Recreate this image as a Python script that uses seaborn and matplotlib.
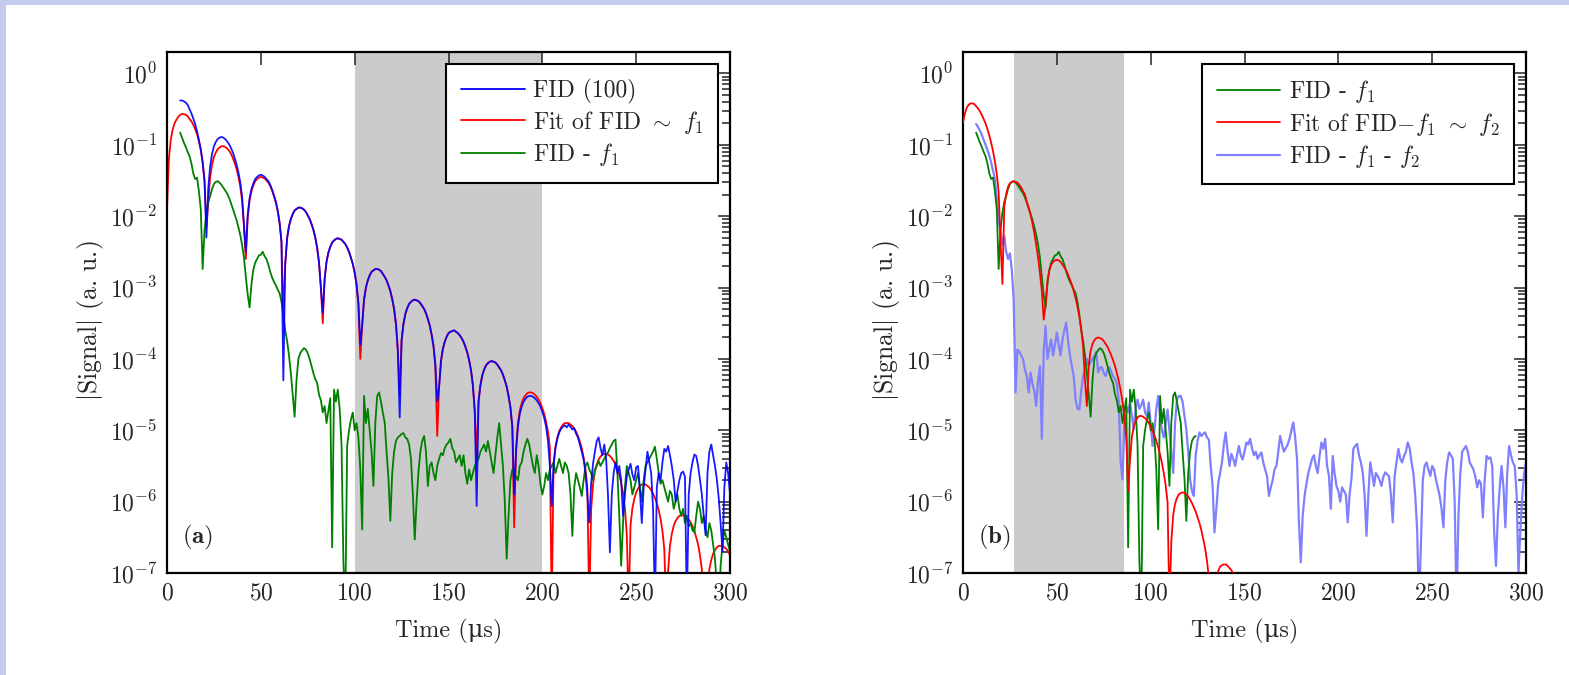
import numpy as np
import matplotlib
matplotlib.use("Agg")
import matplotlib.pyplot as plt
import seaborn as sns
from matplotlib.patches import Rectangle
from matplotlib.ticker import LogLocator, NullFormatter, FixedLocator

# ------------------------------------------------------------------
# Data: log10(|signal|), one value per microsecond
# ------------------------------------------------------------------
T0_FIT = 0    # fitted curves start at t = 0 us
T0_DATA = 7   # measured traces start at t = 7 us

# Fit of FID ~ f1  (panel a, red), t = 0..300
fit_f1_log = [
    -1.90, -1.20, -0.93, -0.79, -0.70, -0.65, -0.61, -0.58, -0.57, -0.57,
    -0.58, -0.60, -0.64, -0.67, -0.72, -0.78, -0.85, -0.95, -1.07, -1.24,
    -1.50, -2.15, -1.81, -1.45, -1.28, -1.17, -1.11, -1.06, -1.04, -1.02,
    -1.02, -1.03, -1.05, -1.08, -1.12, -1.18, -1.25, -1.33, -1.44, -1.58,
    -1.78, -2.15, -2.60, -2.02, -1.78, -1.65, -1.57, -1.51, -1.48, -1.46,
    -1.45, -1.46, -1.47, -1.50, -1.53, -1.58, -1.64, -1.72, -1.81, -1.93,
    -2.10, -2.36, -3.40, -2.67, -2.31, -2.14, -2.04, -1.97, -1.92, -1.90,
    -1.88, -1.88, -1.89, -1.91, -1.94, -1.99, -2.04, -2.11, -2.19, -2.30,
    -2.44, -2.65, -3.01, -3.50, -2.88, -2.64, -2.51, -2.43, -2.37, -2.34,
    -2.32, -2.31, -2.32, -2.33, -2.36, -2.39, -2.44, -2.50, -2.58, -2.67,
    -2.79, -2.96, -3.23, -4.00, -3.53, -3.17, -3.00, -2.90, -2.83, -2.78,
    -2.76, -2.74, -2.74, -2.75, -2.77, -2.81, -2.85, -2.90, -2.97, -3.05,
    -3.16, -3.30, -3.51, -3.88, -4.50, -3.74, -3.51, -3.37, -3.29, -3.23,
    -3.20, -3.18, -3.17, -3.18, -3.19, -3.22, -3.26, -3.30, -3.36, -3.44,
    -3.53, -3.66, -3.82, -4.09, -5.08, -4.39, -4.03, -3.86, -3.76, -3.69,
    -3.64, -3.62, -3.61, -3.60, -3.62, -3.64, -3.67, -3.71, -3.76, -3.83,
    -3.91, -4.02, -4.16, -4.37, -4.74, -5.40, -4.60, -4.37, -4.23, -4.15,
    -4.09, -4.06, -4.04, -4.03, -4.04, -4.05, -4.08, -4.12, -4.16, -4.22,
    -4.30, -4.39, -4.52, -4.68, -4.95, -6.36, -5.26, -4.90, -4.72, -4.62,
    -4.55, -4.51, -4.48, -4.47, -4.47, -4.48, -4.50, -4.53, -4.57, -4.62,
    -4.69, -4.77, -4.88, -5.02, -5.23, -7.50, -5.46, -5.23, -5.10, -5.01,
    -4.96, -4.92, -4.90, -4.90, -4.90, -4.92, -4.94, -4.98, -5.02, -5.08,
    -5.16, -5.25, -5.38, -5.55, -5.81, -7.50, -6.12, -5.76, -5.58, -5.48,
    -5.41, -5.37, -5.34, -5.33, -5.33, -5.34, -5.36, -5.39, -5.43, -5.48,
    -5.55, -5.63, -5.74, -5.88, -6.09, -6.46, -7.50, -6.33, -6.09, -5.96,
    -5.87, -5.82, -5.78, -5.76, -5.76, -5.76, -5.78, -5.80, -5.84, -5.89,
    -5.95, -6.02, -6.12, -6.24, -6.41, -6.67, -7.50, -6.98, -6.62, -6.45,
    -6.34, -6.27, -6.23, -6.20, -6.19, -6.19, -6.20, -6.22, -6.25, -6.29,
    -6.34, -6.41, -6.50, -6.60, -6.75, -6.95, -7.32, -7.94, -7.19, -6.95,
    -6.82, -6.73, -6.68, -6.64, -6.62, -6.62, -6.62, -6.64, -6.66, -6.70,
    -6.75,
]

# FID (100)  (panel a, blue), t = 7..300
fid_log = [
    -0.38, -0.38, -0.39,
    -0.41, -0.44, -0.50, -0.56, -0.63, -0.71, -0.81, -0.93, -1.07, -1.25,
    -1.52, -2.30, -1.60, -1.30, -1.13, -1.02, -0.96, -0.92, -0.90, -0.89,
    -0.90, -0.92, -0.95, -0.99, -1.04, -1.10, -1.18, -1.27, -1.38, -1.52,
    -1.72, -2.10, -2.50, -1.98, -1.75, -1.62, -1.54, -1.48, -1.45, -1.43,
    -1.42, -1.43, -1.45, -1.48, -1.51, -1.56, -1.63, -1.71, -1.80, -1.92,
    -2.09, -2.36, -4.30, -2.67, -2.31, -2.14, -2.04, -1.97, -1.92, -1.90,
    -1.88, -1.88, -1.89, -1.91, -1.94, -1.99, -2.04, -2.11, -2.19, -2.30,
    -2.44, -2.65, -3.01, -3.35, -2.88, -2.64, -2.51, -2.43, -2.37, -2.34,
    -2.32, -2.31, -2.32, -2.33, -2.36, -2.39, -2.44, -2.50, -2.58, -2.67,
    -2.79, -2.96, -3.23, -3.80, -3.53, -3.17, -3.00, -2.90, -2.83, -2.78,
    -2.76, -2.74, -2.74, -2.75, -2.77, -2.81, -2.85, -2.90, -2.97, -3.05,
    -3.16, -3.30, -3.51, -3.88, -4.82, -3.74, -3.51, -3.37, -3.29, -3.23,
    -3.20, -3.18, -3.17, -3.18, -3.19, -3.22, -3.26, -3.30, -3.36, -3.44,
    -3.53, -3.66, -3.82, -4.09, -4.60, -4.39, -4.03, -3.86, -3.76, -3.69,
    -3.64, -3.62, -3.61, -3.60, -3.62, -3.64, -3.67, -3.71, -3.76, -3.83,
    -3.91, -4.02, -4.16, -4.37, -4.74, -6.06, -4.60, -4.37, -4.23, -4.15,
    -4.09, -4.06, -4.04, -4.03, -4.04, -4.05, -4.08, -4.12, -4.16, -4.22,
    -4.30, -4.39, -4.52, -4.68, -4.95, -5.90, -5.30, -4.95, -4.77, -4.67,
    -4.60, -4.56, -4.53, -4.52, -4.52, -4.53, -4.55, -4.58, -4.62, -4.67,
    -4.74, -4.83, -4.95, -5.15, -5.50, -6.06, -5.50, -5.25, -5.12, -5.03,
    -4.98, -4.95, -4.93, -4.96, -4.92, -4.95, -4.99, -4.97, -5.05, -5.10,
    -5.20, -5.30, -5.41, -5.60, -5.92, -6.29, -5.75, -5.47, -5.30, -5.15,
    -5.10, -5.25, -5.35, -5.20, -5.40, -5.92, -6.71, -5.90, -5.60, -5.45,
    -5.60, -5.50, -5.70, -6.20, -5.90, -5.65, -5.55, -5.47, -5.62, -5.70,
    -5.52, -5.50, -5.85, -6.30, -5.80, -5.55, -5.30, -5.45, -5.60, -6.10,
    -7.50, -5.80, -5.60, -5.70, -5.45, -5.26, -5.30, -5.22, -5.35, -5.50,
    -5.69, -6.00, -5.85, -5.70, -5.60, -5.58, -5.65, -7.50, -5.90, -5.60,
    -5.45, -5.34, -5.36, -5.50, -5.69, -5.90, -6.20, -6.47, -5.60, -5.30,
    -5.20, -5.35, -5.50, -5.69, -5.95, -6.30, -6.70, -5.80, -5.45, -5.60,
    -5.90,
]

# FID - f1  (green, both panels), t = 7..300
fid_minus_f1_log = [
    -0.83, -0.90, -0.97,
    -1.03, -1.10, -1.16, -1.26, -1.40, -1.48, -1.46, -1.65, -1.90, -2.74,
    -2.20, -1.95, -1.80, -1.72, -1.62, -1.55, -1.52, -1.51, -1.53, -1.56,
    -1.60, -1.64, -1.68, -1.74, -1.81, -1.89, -1.97, -2.05, -2.15, -2.26,
    -2.40, -2.58, -2.85, -3.10, -3.28, -2.95, -2.75, -2.65, -2.60, -2.55,
    -2.54, -2.50, -2.56, -2.60, -2.68, -2.78, -2.86, -2.92, -2.97, -3.03,
    -3.08, -3.20, -3.38, -3.60, -3.75, -3.95, -4.20, -4.50, -4.81, -4.30,
    -4.00, -3.92, -3.88, -3.85, -3.87, -3.92, -4.00, -4.10, -4.20, -4.28,
    -4.34, -4.50, -4.58, -4.75, -4.66, -4.90, -4.72, -4.55, -6.64, -4.43,
    -4.60, -4.43, -4.70, -5.20, -6.85, -7.50, -5.22, -5.00, -4.85, -4.75,
    -5.00, -4.90, -5.10, -5.55, -6.39, -4.52, -4.90, -4.70, -5.00, -5.30,
    -5.78, -4.90, -4.52, -4.47, -4.60, -4.75, -4.89, -5.30, -5.67, -6.27,
    -5.60, -5.30, -5.15, -5.10, -5.08, -5.05, -5.04, -5.10, -5.12, -5.20,
    -5.40, -5.90, -6.53, -6.00, -5.58, -5.30, -5.15, -5.08, -5.30, -5.78,
    -5.50, -5.45, -5.60, -5.70, -5.50, -5.40, -5.32, -5.35, -5.25, -5.20,
    -5.17, -5.12, -5.25, -5.30, -5.45, -5.40, -5.35, -5.50, -5.35, -5.60,
    -5.75, -5.55, -5.70, -5.60, -5.50, -5.45, -5.40, -5.30, -5.25, -5.20,
    -5.30, -5.15, -5.30, -5.45, -5.60, -5.35, -5.10, -4.90, -5.20, -5.50,
    -6.00, -6.80, -6.20, -5.70, -5.55, -5.60, -5.65, -5.70, -5.50, -5.45,
    -5.30, -5.20, -5.12, -5.20, -5.35, -5.50, -5.60, -5.35, -5.50, -5.75,
    -5.90, -5.78, -5.60, -5.70, -5.55, -5.50, -5.45, -5.60, -5.50, -5.40,
    -5.50, -5.60, -5.45, -5.50, -5.60, -5.90, -6.48, -5.80, -5.60, -5.70,
    -5.80, -5.92, -5.70, -5.50, -5.45, -5.55, -5.60, -5.70, -5.55, -5.50,
    -5.43, -5.50, -5.45, -5.40, -5.35, -5.31, -5.25, -5.20, -5.15, -5.13,
    -5.60, -6.20, -6.90, -6.30, -5.80, -5.50, -5.60, -5.70, -5.90, -5.80,
    -5.70, -5.60, -5.80, -6.00, -5.70, -5.50, -5.45, -5.40, -5.35, -5.30,
    -5.23, -5.40, -5.60, -5.75, -5.70, -5.80, -5.90, -6.00, -5.85, -5.90,
    -6.10, -6.00, -5.90, -6.10, -6.20, -6.10, -6.30, -6.20, -6.35, -6.30,
    -6.40, -6.43, -6.20, -6.00, -6.10, -6.30, -6.20, -6.40, -6.50, -6.30,
    -6.40, -6.60, -6.80, -7.20, -7.50, -6.90, -6.60, -6.40, -6.50, -6.60,
    -6.70,
]
GREEN_B_END = 124   # panel b shows FID - f1 only up to this time (us)

# Fit of FID - f1 ~ f2  (panel b, red), t = 0..150
fit_f2_log = [
    -0.69, -0.56, -0.48, -0.44, -0.42, -0.42, -0.43, -0.46, -0.49, -0.53,
    -0.58, -0.64, -0.70, -0.78, -0.87, -0.97, -1.09, -1.23, -1.41, -1.67,
    -2.35, -2.95, -1.87, -1.69, -1.59, -1.54, -1.52, -1.51, -1.52, -1.53,
    -1.56, -1.60, -1.65, -1.70, -1.80, -1.88, -1.98, -2.10, -2.24, -2.40,
    -2.58, -2.80, -3.05, -3.45, -3.24, -2.90, -2.76, -2.68, -2.64, -2.62,
    -2.61, -2.62, -2.64, -2.68, -2.72, -2.76, -2.82, -2.89, -2.96, -3.05,
    -3.15, -3.27, -3.41, -3.58, -3.83, -4.30, -4.66, -4.09, -3.89, -3.79,
    -3.74, -3.71, -3.70, -3.71, -3.72, -3.75, -3.79, -3.83, -3.89, -3.95,
    -4.02, -4.10, -4.20, -4.31, -4.44, -4.60, -4.81, -5.13, -5.85, -5.42,
    -5.09, -4.95, -4.87, -4.82, -4.80, -4.80, -4.81, -4.83, -4.86, -4.90,
    -4.95, -5.01, -5.07, -5.15, -5.24, -5.34, -5.46, -5.60, -5.77, -6.01,
    -7.50, -6.56, -6.19, -6.03, -5.95, -5.90, -5.88, -5.87, -5.88, -5.90,
    -5.93, -5.97, -6.02, -6.08, -6.14, -6.22, -6.30, -6.40, -6.52, -6.65,
    -6.83, -7.06, -7.46, -7.90, -7.30, -7.08, -6.97, -6.91, -6.89, -6.88,
    -6.88, -6.90, -6.93, -6.96, -7.01, -7.06, -7.11, -7.16, -7.22, -7.28,
    -7.34,
]

# FID - f1 - f2  (panel b, light blue), t = 7..300
fid_minus_f1_f2_log = [
    -0.71, -0.75, -0.80,
    -0.86, -0.93, -1.00, -1.07, -1.15, -1.25, -1.36, -1.48, -1.75, -2.05,
    -2.23, -2.40, -2.28, -2.50, -2.60, -2.52, -2.75, -3.17, -4.47, -3.87,
    -3.90, -3.95, -4.00, -4.15, -4.24, -4.47, -4.19, -4.35, -4.45, -4.66,
    -4.30, -4.10, -5.12, -3.90, -3.54, -4.00, -3.85, -3.73, -3.95, -3.80,
    -3.63, -3.80, -3.95, -3.73, -3.60, -3.49, -3.75, -3.95, -4.10, -4.24,
    -4.57, -4.70, -4.71, -4.45, -4.24, -4.15, -4.00, -4.10, -4.05, -4.00,
    -3.96, -3.90, -4.19, -4.12, -4.12, -4.20, -4.24, -4.15, -4.12, -4.18,
    -4.25, -4.28, -4.35, -4.60, -5.45, -5.69, -4.90, -4.66, -4.75, -4.61,
    -4.80, -4.99, -4.70, -4.57, -4.70, -4.65, -4.57, -4.75, -4.80, -4.61,
    -4.90, -5.22, -5.00, -4.70, -4.52, -4.80, -5.00, -5.10, -4.90, -4.71,
    -5.00, -5.30, -5.60, -4.90, -4.57, -4.52, -4.52, -4.60, -4.80, -4.99,
    -5.30, -5.69, -5.85, -5.92, -5.35, -5.15, -5.03, -5.08, -5.05, -5.03,
    -5.10, -5.13, -5.50, -5.78, -6.43, -6.10, -5.74, -5.60, -5.45, -5.20,
    -5.03, -5.30, -5.50, -5.33, -5.40, -5.50, -5.35, -5.22, -5.35, -5.41,
    -5.30, -5.17, -5.20, -5.12, -5.25, -5.35, -5.30, -5.40, -5.35, -5.31,
    -5.45, -5.55, -5.64, -5.92, -5.80, -5.70, -5.55, -5.50, -5.30, -5.08,
    -5.20, -5.30, -5.25, -5.20, -5.12, -5.00, -4.89, -5.10, -5.40, -6.29,
    -6.85, -6.20, -5.92, -5.75, -5.60, -5.50, -5.40, -5.35, -5.50, -5.60,
    -5.36, -5.17, -5.26, -5.12, -5.50, -5.64, -6.10, -5.36, -5.60, -5.78,
    -5.85, -6.00, -5.80, -5.85, -5.90, -6.29, -5.90, -5.68, -5.26, -5.22,
    -5.19, -5.35, -5.45, -5.59, -5.90, -6.48, -5.90, -5.45, -5.60, -5.78,
    -5.60, -5.64, -5.70, -5.78, -5.65, -5.59, -5.62, -5.64, -5.90, -6.29,
    -5.64, -5.45, -5.26, -5.40, -5.45, -5.36, -5.30, -5.17, -5.25, -5.45,
    -5.60, -5.92, -6.40, -7.50, -6.60, -5.70, -5.50, -5.45, -5.55, -5.64,
    -5.50, -5.55, -5.69, -5.80, -5.92, -6.10, -6.36, -5.70, -5.45, -5.31,
    -5.35, -5.40, -6.00, -7.50, -6.20, -5.60, -5.30, -5.26, -5.22, -5.30,
    -5.45, -5.50, -5.55, -5.65, -5.80, -5.70, -5.75, -6.22, -5.70, -5.36,
    -5.40, -5.38, -5.50, -6.40, -6.90, -6.20, -5.80, -5.50, -5.80, -6.36,
    -5.60, -5.22, -5.35, -5.45, -5.50, -5.90, -7.00, -6.40, -5.92, -5.60,
    -5.45,
]

window_a = (100, 200)   # shaded fit window, panel a (us)
window_b = (27, 86)     # shaded fit window, panel b (us)
x_ticks = [0, 50, 100, 150, 200, 250, 300]
legend_a = ["FID (100)", r"Fit of FID $\sim$ $f_1$", r"FID - $f_1$"]
legend_b = [r"FID - $f_1$", r"Fit of FID$-f_1$ $\sim$ $f_2$", r"FID - $f_1$ - $f_2$"]
panel_labels = [r"($\mathbf{a}$)", r"($\mathbf{b}$)"]
x_label = "Time (\u03bcs)"
y_label = r"$|$Signal$|$ (a. u.)"

# ------------------------------------------------------------------
sns.set_style("white")
plt.rcParams.update({
    "font.family": ["cmr10", "DejaVu Serif"],
    "mathtext.fontset": "cm",
    "axes.formatter.use_mathtext": True,
    "font.size": 17,
})

W, H = 1569, 675
fig = plt.figure(figsize=(W / 100, H / 100), dpi=100)
fig.patch.set_facecolor("white")

ax_a = fig.add_axes([167 / W, 1 - 573 / H, 563 / W, 521 / H])
ax_b = fig.add_axes([963 / W, 1 - 573 / H, 563 / W, 521 / H])


def series(t0, vals):
    v = np.asarray(vals, dtype=float)
    return t0 + np.arange(len(v)), 10.0 ** v


def draw(ax, t0, vals, color, label, lw, z, alpha=1.0):
    t, y = series(t0, vals)
    sns.lineplot(x=t, y=y, ax=ax, color=color, linewidth=lw, label=label,
                 estimator=None, sort=False, zorder=z, alpha=alpha)


RED, BLUE, GREEN, LBLUE = "#ff0000", "#0000ff", "#008000", "#8080ff"

# panel a
draw(ax_a, T0_FIT, fit_f1_log, RED, legend_a[1], 1.3, 2)
draw(ax_a, T0_DATA, fid_minus_f1_log, GREEN, legend_a[2], 1.3, 2.5)
draw(ax_a, T0_DATA, fid_log, BLUE, legend_a[0], 1.3, 3, alpha=0.9)

# panel b
n_green_b = GREEN_B_END - T0_DATA + 1
draw(ax_b, T0_DATA, fid_minus_f1_f2_log, LBLUE, legend_b[2], 1.6, 2)
draw(ax_b, T0_DATA, fid_minus_f1_log[:n_green_b], GREEN, legend_b[0], 1.3, 2.5)
draw(ax_b, T0_FIT, fit_f2_log, RED, legend_b[1], 1.3, 3)

for ax, win, order, plabel in [(ax_a, window_a, legend_a, panel_labels[0]),
                               (ax_b, window_b, legend_b, panel_labels[1])]:
    ax.axvspan(win[0], win[1], color="#cbcbcb", lw=0, zorder=0)
    ax.set_yscale("log")
    ax.set_xlim(0, 300)
    ax.set_ylim(1e-7, 10 ** 0.3)
    ax.xaxis.set_major_locator(FixedLocator(x_ticks))
    ax.yaxis.set_major_locator(LogLocator(base=10, numticks=20))
    ax.yaxis.set_minor_locator(LogLocator(base=10, subs=np.arange(2, 10), numticks=20))
    ax.yaxis.set_minor_formatter(NullFormatter())
    ax.tick_params(which="both", direction="in", top=True, right=True,
                   color="#222222", width=1.1, labelsize=17)
    ax.tick_params(which="major", length=9)
    ax.tick_params(which="minor", length=6)
    ax.tick_params(axis="x", pad=7)
    ax.tick_params(axis="y", pad=7)
    for s in ax.spines.values():
        s.set_linewidth(1.6)
        s.set_color("black")
    ax.set_xlabel(x_label, fontsize=17.5)
    ax.set_ylabel(y_label, fontsize=18.5)
    ax.xaxis.set_label_coords(0.5, -0.088)
    ax.yaxis.set_label_coords(-0.108, 0.484)
    ax.grid(False)
    handles, labels = ax.get_legend_handles_labels()
    hmap = dict(zip(labels, handles))
    leg = ax.legend([hmap[k] for k in order], order, loc="upper right",
                    frameon=True, fancybox=False, framealpha=1,
                    edgecolor="black", fontsize=17, handlelength=2.7,
                    handletextpad=0.35, labelspacing=0.22, borderpad=0.62,
                    borderaxespad=0.5)
    leg.get_frame().set_linewidth(1.5)
    for line in leg.get_lines():
        line.set_alpha(1.0)
    ax.text(0.027, 0.068, plabel, transform=ax.transAxes, fontsize=18,
            va="center", ha="left", zorder=5)

# lavender frame strips (top and left)
fig.add_artist(Rectangle((0, 1 - 5 / H), 1, 5 / H, transform=fig.transFigure,
                         facecolor="#c3cbf1", edgecolor="none", zorder=10))
fig.add_artist(Rectangle((0, 0), 6 / W, 1, transform=fig.transFigure,
                         facecolor="#c3cbf1", edgecolor="none", zorder=10))

fig.savefig("out.png", dpi=100)
